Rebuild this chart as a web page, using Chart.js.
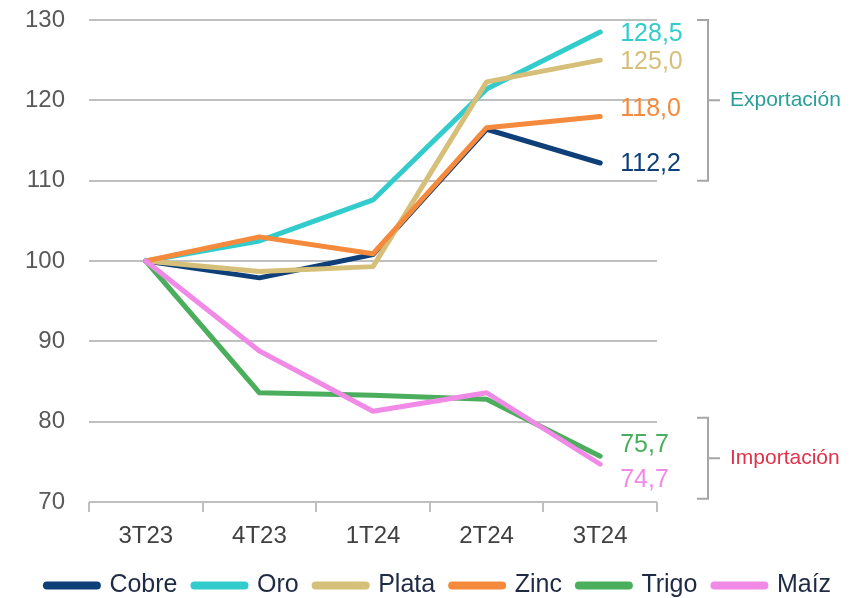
<!DOCTYPE html>
<html>
<head>
<meta charset="utf-8">
<script src="https://cdn.jsdelivr.net/npm/chart.js@4"></script>
<style>
  html, body { margin: 0; padding: 0; background: #fff; }
  #wrap { width: 854px; height: 598px; }
</style>
</head>
<body>
<div id="wrap"><canvas id="chart"></canvas></div>
<script>
var quarters = ['3T23', '4T23', '1T24', '2T24', '3T24'];
var yTicks = [70, 80, 90, 100, 110, 120, 130];

var cobre = [100, 97.9, 100.8, 116.4, 112.2];
var oro   = [100, 102.5, 107.6, 121.4, 128.5];
var plata = [100, 98.7, 99.3, 122.3, 125.0];
var zinc  = [100, 103.0, 100.9, 116.6, 118.0];
var trigo = [100, 83.6, 83.3, 82.8, 75.7];
var maiz  = [100, 88.8, 81.3, 83.6, 74.7];

// grupos de la llave derecha: [desde, hasta]
var exportRange = [130, 110];
var importRange = [80.5, 70.4];

// desplazamiento vertical de las etiquetas finales (px), para que no se pisen
var labelShift = [1, 2, 2, -7, -11, 16];

var FONT = "'Liberation Sans', Arial, sans-serif";
Chart.defaults.font.family = FONT;

function serie(label, data, color, order) {
	return {
		label: label,
		data: data,
		borderColor: color,
		backgroundColor: color,
		borderWidth: 5,
		borderCapStyle: 'round',
		borderJoinStyle: 'round',
		pointRadius: 0,
		tension: 0,
		order: order
	};
}

// etiquetas de valor final y llaves Exportación / Importación
var annotations = {
	id: 'annotations',
	afterDatasetsDraw: function(chart) {
		var ctx = chart.ctx;
		var x = chart.scales.x;
		var y = chart.scales.y;
		var area = chart.chartArea;
		ctx.save();
		ctx.font = '25px ' + FONT;
		ctx.textAlign = 'left';
		ctx.textBaseline = 'middle';
		chart.data.datasets.forEach(function(ds, i) {
			var last = ds.data.length - 1;
			var v = ds.data[last];
			var px = x.getPixelForValue(last) + 20;
			var py = y.getPixelForValue(v) + labelShift[i];
			ctx.fillStyle = ds.borderColor;
			ctx.fillText(v.toFixed(1).replace('.', ','), px, py);
		});

		function brace(range, text, color) {
			var top = y.getPixelForValue(range[0]);
			var bot = y.getPixelForValue(range[1]);
			var mid = (top + bot) / 2;
			var bx = area.right + 51;
			ctx.strokeStyle = '#a6a6a6';
			ctx.lineWidth = 2;
			ctx.beginPath();
			ctx.moveTo(area.right + 40, top);
			ctx.lineTo(bx, top);
			ctx.lineTo(bx, bot);
			ctx.lineTo(area.right + 40, bot);
			ctx.moveTo(bx, mid);
			ctx.lineTo(area.right + 63, mid);
			ctx.stroke();
			ctx.font = '21px ' + FONT;
			ctx.fillStyle = color;
			ctx.fillText(text, area.right + 73, mid);
		}
		brace(exportRange, 'Exportación', '#2a9f98');
		brace(importRange, 'Importación', '#e0324a');
		ctx.restore();
	}
};

new Chart(document.getElementById('chart').getContext('2d'), {
	type: 'line',
	data: {
		labels: quarters,
		datasets: [
			serie('Cobre', cobre, '#0e3f78', 4),
			serie('Oro', oro, '#33cccc', 5),
			serie('Plata', plata, '#d6bf78', 3),
			serie('Zinc', zinc, '#f58a3d', 2),
			serie('Trigo', trigo, '#4aae5c', 1),
			serie('Maíz', maiz, '#f08ae6', 0)
		]
	},
	plugins: [annotations],
	options: {
		animation: false,
		responsive: true,
		maintainAspectRatio: false,
		layout: {
			padding: { left: 24, right: 0, top: 20, bottom: -10 }
		},
		plugins: {
			tooltip: { enabled: false },
			legend: {
				position: 'bottom',
				labels: {
					usePointStyle: true,
					pointStyle: 'line',
					pointStyleWidth: 50,
					padding: 17,
					color: '#1f2a44',
					font: { size: 25 },
					sort: function(a, b) { return a.datasetIndex - b.datasetIndex; },
					generateLabels: function(chart) {
						return Chart.defaults.plugins.legend.labels.generateLabels(chart).map(function(l) {
							l.lineWidth = 8;
							l.lineCap = 'round';
							return l;
						});
					}
				}
			}
		},
		scales: {
			x: {
				offset: true,
				grid: {
					offset: true,
					drawOnChartArea: false,
					tickLength: 10,
					color: '#bfbfbf',
					lineWidth: 2
				},
				border: { display: false },
				ticks: { color: '#404040', font: { size: 24 }, padding: 10 },
				afterFit: function(s) { s.height = 54; }
			},
			y: {
				min: yTicks[0],
				max: yTicks[yTicks.length - 1],
				afterBuildTicks: function(s) {
					s.ticks = yTicks.map(function(v) { return { value: v }; });
				},
				grid: { color: '#bfbfbf', lineWidth: 2, tickLength: 24, tickColor: 'rgba(0,0,0,0)' },
				border: { display: false },
				ticks: { color: '#595959', font: { size: 24 }, padding: 0 },
				afterFit: function(s) { s.width = 65; }
			},
			espacio: {
				position: 'right',
				grid: { display: false },
				border: { display: false },
				ticks: { display: false },
				afterFit: function(s) { s.width = 197; }
			}
		}
	}
});
</script>
</body>
</html>
